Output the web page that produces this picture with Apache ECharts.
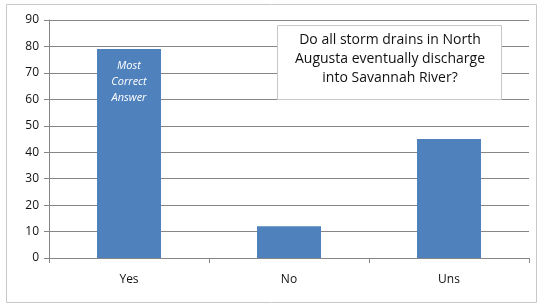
<!DOCTYPE html>
<html>
<head>
<meta charset="utf-8">
<script src="https://cdn.jsdelivr.net/npm/echarts@6/dist/echarts.min.js"></script>
<style>
  html, body { margin: 0; padding: 0; background: #fff; }
  #chart { width: 538px; height: 305px; }
</style>
</head>
<body>
<div id="chart"></div>
<script>
// Data
const categories = ['Yes', 'No', 'Uns'];
const values = [79, 12, 45];
const questionLines = ['Do all storm drains in North', 'Augusta eventually discharge', 'into Savannah River?'];
const barNote = 'Most\nCorrect\nAnswer';

const chart = echarts.init(document.getElementById('chart'));

const fontFamily = '"Open Sans", "Liberation Sans", sans-serif';

chart.setOption({
    animation: false,
    grid: { left: 49, right: 9, top: 20, bottom: 47 },
    xAxis: {
        type: 'category',
        data: categories,
        axisLine: { lineStyle: { color: '#868686' } },
        axisTick: { show: true, alignWithLabel: false, length: 5, lineStyle: { color: '#868686' } },
        axisLabel: { color: '#111', fontSize: 12, fontFamily: fontFamily, margin: 16 }
    },
    yAxis: {
        type: 'value',
        min: 0,
        max: 90,
        interval: 10,
        axisLine: { show: true, lineStyle: { color: '#868686' } },
        axisTick: { show: true, inside: false, length: 5, lineStyle: { color: '#868686' } },
        splitLine: { lineStyle: { color: '#868686' } },
        axisLabel: { color: '#111', fontSize: 12, fontFamily: fontFamily, margin: 10 }
    },
    series: [{
        type: 'bar',
        barWidth: 64,
        itemStyle: { color: '#4f81bd' },
        data: values.map((v, i) => i === 0 ? {
            value: v,
            label: {
                show: true,
                position: 'insideTop',
                distance: 9,
                formatter: barNote,
                color: '#fff',
                fontStyle: 'italic',
                fontSize: 11,
                lineHeight: 16,
                fontFamily: fontFamily
            }
        } : v)
    }],
    graphic: [
        {
            type: 'rect',
            shape: { x: 6.5, y: 4.5, width: 530, height: 298 },
            style: { fill: 'none', stroke: '#c8c8c8', lineWidth: 1 },
            silent: true
        },
        {
            type: 'rect',
            shape: { x: 277.5, y: 25.5, width: 224, height: 74 },
            style: { fill: '#fff', stroke: '#c8c8c8', lineWidth: 1 },
            z: 10
        },
        {
            type: 'text',
            x: 390,
            y: 31,
            style: {
                text: questionLines.join('\n'),
                fill: '#111',
                fontSize: 14,
                lineHeight: 19,
                fontFamily: fontFamily,
                align: 'center',
                verticalAlign: 'top'
            },
            z: 11
        }
    ]
});
</script>
</body>
</html>
